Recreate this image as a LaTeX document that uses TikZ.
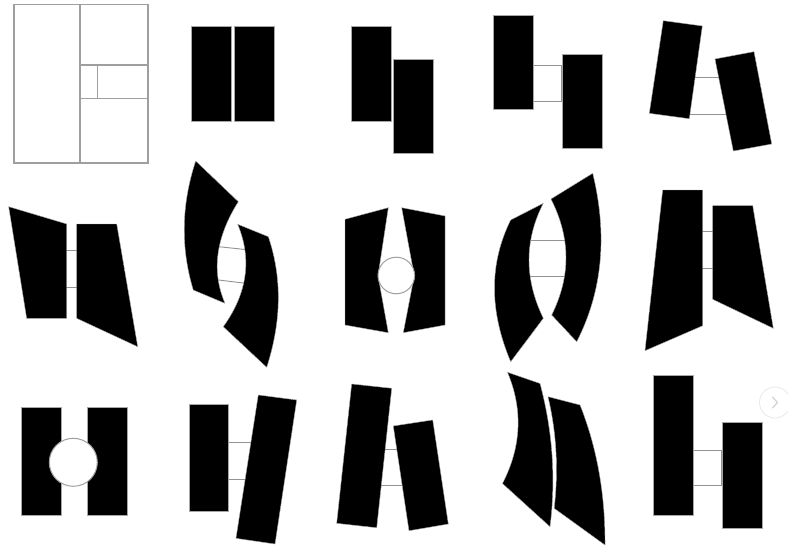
\documentclass[tikz,border=0pt]{standalone}
\begin{document}
\begin{tikzpicture}[x=1pt,y=-1pt,
  blk/.style={fill=black, draw=gray!70, line width=0.4pt, line join=round},
  conn/.style={draw=gray!85, line width=0.9pt},
  frm/.style={draw=gray!75, line width=1.1pt},
  ring/.style={draw=gray!75, fill=white, line width=1pt}]
\useasboundingbox[fill=white] (0,0) rectangle (788,546);

% ---------- Row 1 ----------
% panel 1: frame
\draw[frm] (14,4.3) rectangle (148,163);
\draw[frm] (80,4.3) -- (80,163);
\draw[frm] (80,65) -- (148,65);
\draw[frm] (80,98.3) -- (148,98.3);
\draw[frm] (97.3,65) -- (97.3,98.3);

% panel 2
\draw[blk] (191,26) rectangle (231,120.7);
\draw[blk] (234.3,26) rectangle (274.3,120.7);

% panel 3
\draw[blk] (351,26.3) rectangle (390.7,120.7);
\draw[blk] (393.3,59) rectangle (433.3,153.3);

% panel 4
\draw[conn] (533.3,65.3) rectangle (561.7,101.3);
\draw[blk] (493.3,14.7) rectangle (533.3,108.7);
\draw[blk] (561.7,54.3) rectangle (601.7,148.3);

% panel 5
\draw[conn] (690,77.7) -- (725,77.7);
\draw[conn] (685,114.3) -- (728,114.3);
\draw[blk] (663.3,20.7) -- (702.3,26) -- (689.3,118.7) -- (649.3,113.3) -- cycle;
\draw[blk] (715,59) -- (754,51.7) -- (771.7,144) -- (733.3,151) -- cycle;

% ---------- Row 2 ----------
% panel 6
\draw[conn] (64,250.7) -- (79,250.7);
\draw[conn] (64,287.3) -- (79,287.3);
\draw[blk] (8.7,206.7) -- (66.7,224) -- (66.7,318.3) -- (26.7,318.3) -- cycle;
\draw[blk] (76.7,224) -- (116.7,224) -- (137.7,346.7) -- (76.7,318.3) -- cycle;

% panel 7
\draw[conn] (216,246.4) -- (246,249.6);
\draw[conn] (217,279.8) -- (248,283.6);
\draw[blk] (195.7,161) -- (238.3,201.7)
   .. controls (215.7,237.6) and (211.2,271.4) .. (225,303.3)
   -- (193.3,290)
   .. controls (180.5,247.7) and (181.3,204.7) .. cycle;
\draw[blk] (237.7,224.3) -- (268.3,236.7)
   .. controls (282.2,277.6) and (281.6,321.1) .. (266.7,367.3)
   -- (223.3,326.7)
   .. controls (247.4,293.2) and (252.2,259.1) .. cycle;

% panel 8
\draw[blk] (345,219.3) -- (388.3,207.7) -- (378,275.7) -- (388.3,332.7) -- (345,325) -- cycle;
\draw[blk] (401.7,207.7) -- (445,216) -- (445,325) -- (403.3,332.7) -- (414.3,275.7) -- cycle;
\draw[ring] (396.3,275.5) circle (18.3);

% panel 9
\draw[conn] (528,240) -- (565,240);
\draw[conn] (526,276.7) -- (568,276.7);
\draw[blk] (543.3,203.3) -- (510.7,220)
   .. controls (489.1,263.4) and (489.1,310.7) .. (510.7,361.7)
   -- (543.3,318.3)
   .. controls (524.2,278.9) and (524.2,240.6) .. cycle;
\draw[blk] (551,199) -- (592.7,173.3)
   .. controls (607.8,235.4) and (602.4,291.6) .. (576.7,341.7)
   -- (551.7,315)
   .. controls (571,276) and (570.8,238.2) .. cycle;

% panel 10
\draw[conn] (700,231.7) -- (715,231.7);
\draw[conn] (700,268.3) -- (715,268.3);
\draw[blk] (662.7,190) -- (702.7,190) -- (702.7,325.7) -- (645,350.7) -- cycle;
\draw[blk] (712.7,205.7) -- (752.7,205.7) -- (773.3,328.3) -- (712.7,299.3) -- cycle;

% ---------- Row 3 ----------
% panel 11
\draw[blk] (20.7,407.3) rectangle (60.7,515);
\draw[blk] (86.7,407.3) rectangle (126.7,515);
\draw[ring] (73.3,462.3) circle (24);

% panel 12
\draw[conn] (226,442.7) -- (254,442.7);
\draw[conn] (226,479.3) -- (250,479.3);
\draw[blk] (189,404.3) rectangle (228.3,511);
\draw[blk] (258.3,395) -- (296.7,400) -- (275,544) -- (236,538.3) -- cycle;

% panel 13
\draw[conn] (380,449.3) -- (402,449.3);
\draw[conn] (376,485.7) -- (406,485.7);
\draw[blk] (351.7,384) -- (391.7,388.3) -- (376.7,527.7) -- (336.7,523.3) -- cycle;
\draw[blk] (393.3,426) -- (432.7,420) -- (448.3,524) -- (409,530.7) -- cycle;

% panel 14
\draw[blk] (507.5,372.3) -- (540,383.5)
   .. controls (552.7,431.1) and (556,478.7) .. (550,526.7)
   -- (502.5,483.5)
   .. controls (521.6,446.6) and (523.1,409.2) .. cycle;
\draw[blk] (548,396.7) -- (580,405)
   .. controls (597,447.7) and (605.3,494.3) .. (605,545)
   -- (554.2,508.3)
   .. controls (558.6,470.4) and (556.7,433.2) .. cycle;

% panel 15
\draw[conn] (693.3,450) rectangle (721.7,485.7);
\draw[blk] (652.7,375) rectangle (693.3,515);
\draw[blk] (721.7,421.7) rectangle (761.7,528.3);

% carousel button
\draw[draw=gray!18, line width=0.8pt] (775,402.5) circle (15.5);
\draw[draw=gray!40, line width=1pt, line cap=round, line join=round]
  (772.5,397) -- (777.5,402.5) -- (772.5,408);
\end{tikzpicture}
\end{document}
